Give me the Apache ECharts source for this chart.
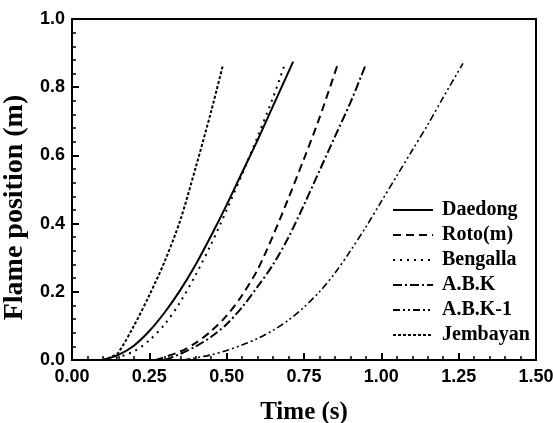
<!DOCTYPE html>
<html>
<head>
<meta charset="utf-8">
<script src="https://cdn.jsdelivr.net/npm/echarts@6/dist/echarts.min.js"></script>
<style>html,body{margin:0;padding:0;background:#fff}#c{width:553px;height:423px}</style>
</head>
<body>
<div id="c"></div>
<script>
const xTicks = [0, 0.25, 0.5, 0.75, 1.0, 1.25, 1.5];
const yTicks = [0, 0.2, 0.4, 0.6, 0.8, 1.0];

const daedongT = [0.10, 0.15, 0.20, 0.25, 0.30, 0.35, 0.40, 0.45, 0.50, 0.55, 0.60, 0.65, 0.70, 0.715];
const daedongV = [0.00, 0.015, 0.042, 0.085, 0.14, 0.205, 0.28, 0.365, 0.455, 0.55, 0.645, 0.745, 0.845, 0.875];

const rotoT = [0.27, 0.35, 0.40, 0.45, 0.50, 0.55, 0.60, 0.65, 0.70, 0.75, 0.80, 0.86];
const rotoV = [0.00, 0.025, 0.05, 0.085, 0.13, 0.19, 0.265, 0.365, 0.475, 0.59, 0.71, 0.87];

const bengallaT = [0.12, 0.20, 0.25, 0.30, 0.35, 0.40, 0.45, 0.50, 0.55, 0.60, 0.65, 0.689];
const bengallaV = [0.00, 0.025, 0.058, 0.105, 0.17, 0.25, 0.34, 0.44, 0.545, 0.655, 0.77, 0.87];

const abkT = [0.30, 0.35, 0.40, 0.45, 0.50, 0.55, 0.60, 0.65, 0.70, 0.75, 0.80, 0.85, 0.90, 0.947];
const abkV = [0.00, 0.018, 0.04, 0.068, 0.105, 0.155, 0.215, 0.28, 0.36, 0.455, 0.555, 0.655, 0.755, 0.86];

const abk1T = [0.36, 0.45, 0.50, 0.55, 0.60, 0.65, 0.70, 0.75, 0.80, 0.85, 0.90, 0.95, 1.00, 1.05, 1.10, 1.15, 1.20, 1.264];
const abk1V = [0.00, 0.015, 0.028, 0.044, 0.063, 0.087, 0.117, 0.155, 0.20, 0.255, 0.32, 0.39, 0.465, 0.54, 0.615, 0.69, 0.77, 0.87];

const jembayanT = [0.10, 0.13, 0.15, 0.20, 0.25, 0.30, 0.35, 0.40, 0.45, 0.488];
const jembayanV = [0.00, 0.01, 0.022, 0.10, 0.19, 0.29, 0.41, 0.565, 0.73, 0.865];

const names = ['Daedong', 'Roto(m)', 'Bengalla', 'A.B.K', 'A.B.K-1', 'Jembayan'];
const seriesT = [daedongT, rotoT, bengallaT, abkT, abk1T, jembayanT];
const seriesV = [daedongV, rotoV, bengallaV, abkV, abk1V, jembayanV];
const dashes = ['solid', [8, 5], [2, 5], [9, 3, 2, 3], [7, 3, 2, 3, 2, 3], [3, 2]];
const widths = [2, 2, 2, 2, 1.6, 2];

const zip = (t, v) => t.map((x, i) => [x, v[i]]);

const chart = echarts.init(document.getElementById('c'));
chart.setOption({
  animation: false,
  backgroundColor: '#fff',
  grid: { left: 72, right: 17, top: 19, bottom: 63, outerBoundsMode: 'none', containLabel: false,
    show: true, borderColor: '#000', borderWidth: 2, backgroundColor: 'transparent' },
  legend: {
    orient: 'vertical', left: 392, top: 200, padding: 0,
    itemWidth: 40, itemHeight: 14, itemGap: 5,
    itemStyle: { opacity: 0 },
    textStyle: { fontFamily: 'Liberation Serif', fontWeight: 'bold', fontSize: 20, lineHeight: 20, color: '#000', padding: [0, 0, 0, 4] },
    data: names
  },
  xAxis: {
    type: 'value', min: 0, max: 1.5, interval: 0.25,
    name: 'Time (s)', nameLocation: 'middle', nameGap: 40,
    nameTextStyle: { fontFamily: 'Liberation Serif', fontWeight: 'bold', fontSize: 25, color: '#000' },
    axisLine: { show: true, lineStyle: { color: '#000', width: 2 } },
    axisTick: { show: true, inside: true, length: 7, lineStyle: { color: '#000', width: 2 } },
    minorTick: { show: true, splitNumber: 5, length: 4, lineStyle: { color: '#000', width: 1.5 } },
    splitLine: { show: false },
    axisLabel: { color: '#000', fontFamily: 'Liberation Sans', fontWeight: 'bold', fontSize: 18, margin: 8,
      formatter: v => { const s = xTicks.find(t => Math.abs(t - v) < 1e-9); return (s === undefined ? v : s).toFixed(2); } }
  },
  yAxis: {
    type: 'value', min: 0, max: 1.0, interval: 0.2,
    name: 'Flame position (m)', nameLocation: 'middle', nameGap: 26,
    nameTextStyle: { fontFamily: 'Liberation Serif', fontWeight: 'bold', fontSize: 28, color: '#000', padding: [0, 36, 0, 0] },
    axisLine: { show: true, lineStyle: { color: '#000', width: 2 } },
    axisTick: { show: true, inside: true, length: 7, lineStyle: { color: '#000', width: 2 } },
    minorTick: { show: true, splitNumber: 5, length: 4, lineStyle: { color: '#000', width: 1.5 } },
    splitLine: { show: false },
    axisLabel: { color: '#000', fontFamily: 'Liberation Sans', fontWeight: 'bold', fontSize: 18, margin: 7,
      formatter: v => { const s = yTicks.find(t => Math.abs(t - v) < 1e-9); return (s === undefined ? v : s).toFixed(1); } }
  },
  series: names.map((n, i) => ({
    name: n, type: 'line', data: zip(seriesT[i], seriesV[i]),
    smooth: 0.3, symbol: 'none',
    lineStyle: { color: '#000', width: widths[i], type: dashes[i] },
    itemStyle: { color: '#000' }
  }))
});
</script>
</body>
</html>
